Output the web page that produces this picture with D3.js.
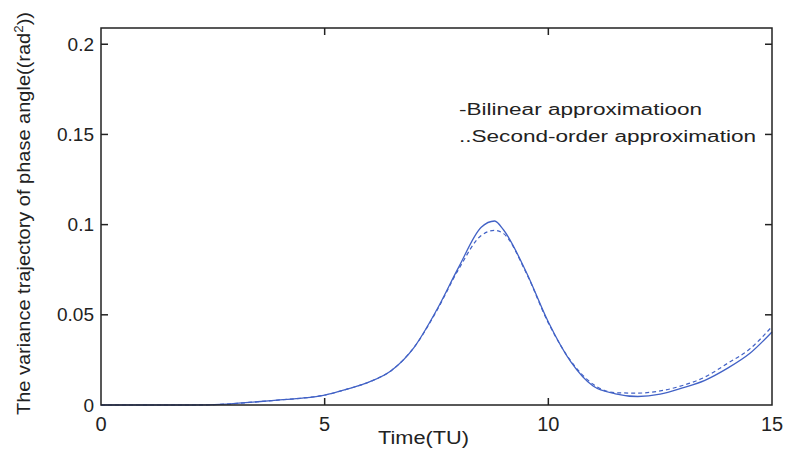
<!DOCTYPE html>
<html>
<head>
<meta charset="utf-8">
<script src="https://cdn.jsdelivr.net/npm/d3@7"></script>
<style>
  body { margin: 0; background: #fff; }
  svg { display: block; font-family: "Liberation Sans", Arial, sans-serif; }
</style>
</head>
<body>
<script>
// time samples (TU)
const time = [0, 1, 2, 2.8, 3.5, 4, 4.5, 5, 5.5, 6, 6.5, 7, 7.5, 8, 8.5, 8.8, 9, 9.5, 10, 10.5, 11, 11.5, 12, 12.5, 13, 13.5, 14, 14.5, 15];
// bilinear approximation (solid)
const bilinear = [0, 0, 0, 0.0005, 0.0018, 0.0028, 0.0038, 0.0055, 0.0088, 0.0128, 0.0193, 0.032, 0.0525, 0.0766, 0.0985, 0.102, 0.097, 0.074, 0.046, 0.024, 0.0105, 0.0062, 0.0047, 0.006, 0.0095, 0.0137, 0.0203, 0.0285, 0.0405];
// second-order approximation (dashed)
const secondOrder = [0, 0, 0, 0.0005, 0.0018, 0.0028, 0.0038, 0.0055, 0.0088, 0.0128, 0.0193, 0.032, 0.052, 0.0755, 0.094, 0.0968, 0.095, 0.0735, 0.0455, 0.0245, 0.0115, 0.0068, 0.0066, 0.0078, 0.0108, 0.0155, 0.023, 0.031, 0.0435];
const xTicks = [0, 5, 10, 15];
const yTicks = [0, 0.05, 0.1, 0.15, 0.2];
const legendLabels = ["-Bilinear approximatioon", "..Second-order approximation"];

const width = 785, height = 450;
const margin = {top: 28, right: 13, bottom: 45, left: 101};

const svg = d3.select("body").append("svg")
    .attr("width", width)
    .attr("height", height);

const x = d3.scaleLinear().domain([0, 15]).range([margin.left, width - margin.right]);
const y = d3.scaleLinear().domain([0, 0.209]).range([height - margin.bottom, margin.top]);

const ink = "#222";
const blue = "#4262c6";

// curves
const line = d3.line()
    .x((d, i) => x(time[i]))
    .y(d => y(d))
    .curve(d3.curveMonotoneX);

svg.append("path")
    .attr("d", line(secondOrder))
    .attr("fill", "none")
    .attr("stroke", blue)
    .attr("stroke-width", 1.2)
    .attr("stroke-dasharray", "4,3");

svg.append("path")
    .attr("d", line(bilinear))
    .attr("fill", "none")
    .attr("stroke", blue)
    .attr("stroke-width", 1.3);

// box
svg.append("rect")
    .attr("x", x(0)).attr("y", y(0.209))
    .attr("width", x(15) - x(0))
    .attr("height", y(0) - y(0.209))
    .attr("fill", "none")
    .attr("stroke", ink)
    .attr("stroke-width", 1.5);

// inward ticks on all four sides
const tl = 7;
const g = svg.append("g").attr("stroke", ink).attr("stroke-width", 1.5);
xTicks.slice(1, -1).forEach(t => {
  g.append("line").attr("x1", x(t)).attr("x2", x(t)).attr("y1", y(0)).attr("y2", y(0) - tl);
  g.append("line").attr("x1", x(t)).attr("x2", x(t)).attr("y1", y(0.209)).attr("y2", y(0.209) + tl);
});
yTicks.slice(1).forEach(t => {
  g.append("line").attr("x1", x(0)).attr("x2", x(0) + tl).attr("y1", y(t)).attr("y2", y(t));
  g.append("line").attr("x1", x(15)).attr("x2", x(15) - tl).attr("y1", y(t)).attr("y2", y(t));
});

// tick labels
svg.append("g")
    .attr("font-size", 20).attr("fill", ink).attr("text-anchor", "middle")
  .selectAll("text").data(xTicks).join("text")
    .attr("x", d => x(d))
    .attr("y", y(0) + 26)
    .text(d => d);

svg.append("g")
    .attr("font-size", 19).attr("fill", ink).attr("text-anchor", "end")
  .selectAll("text").data(yTicks).join("text")
    .attr("x", x(0) - 7)
    .attr("y", d => y(d))
    .attr("dy", "0.35em")
    .text(d => d);

// axis titles
svg.append("text")
    .attr("x", 378).attr("y", 444)
    .attr("font-size", 18).attr("fill", ink)
    .attr("textLength", 91).attr("lengthAdjust", "spacingAndGlyphs")
    .text("Time(TU)");

const yt = svg.append("text")
    .attr("transform", "translate(30,415) rotate(-90)")
    .attr("font-size", 18).attr("fill", ink)
    .attr("textLength", 403).attr("lengthAdjust", "spacingAndGlyphs");
yt.append("tspan").text("The variance trajectory of phase angle((rad");
yt.append("tspan").attr("dy", -7).attr("font-size", 12).text("2");
yt.append("tspan").attr("dy", 7).text("))");

// legend text
const legendWidths = [243, 297];
svg.append("g")
    .attr("font-size", 16).attr("fill", ink)
  .selectAll("text").data(legendLabels).join("text")
    .attr("x", 459)
    .attr("y", (d, i) => 115 + i * 27)
    .attr("textLength", (d, i) => legendWidths[i])
    .attr("lengthAdjust", "spacingAndGlyphs")
    .text(d => d);
</script>
</body>
</html>
